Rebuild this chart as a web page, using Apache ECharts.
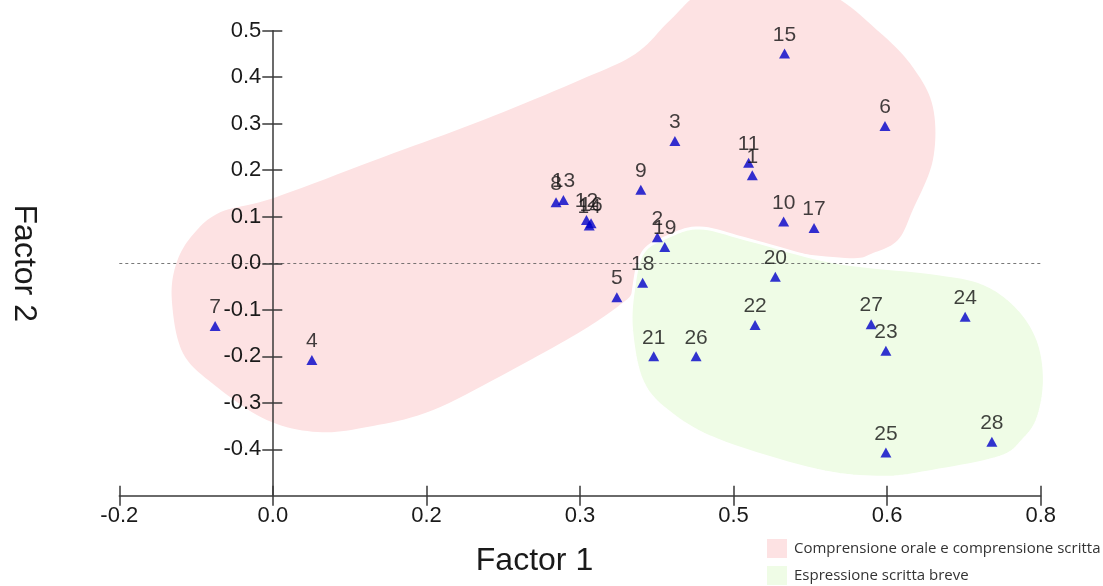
<!DOCTYPE html>
<html>
<head>
<meta charset="utf-8">
<script src="https://cdn.jsdelivr.net/npm/echarts@6/dist/echarts.min.js"></script>
<style>
html,body{margin:0;padding:0;background:#fff;}
#chart{width:1103px;height:586px;}
</style>
</head>
<body>
<div id="chart"></div>
<script>
// ---- data ----
const pointIds = ['1','2','3','4','5','6','7','8','9','10','11','12','13','14','15','16','17','18','19','20','21','22','23','24','25','26','27','28'];
const factor1 = [0.487,0.384,0.403,0.009,0.340,0.631,-0.096,0.274,0.366,0.521,0.483,0.307,0.282,0.310,0.522,0.312,0.554,0.368,0.392,0.512,0.380,0.490,0.632,0.718,0.632,0.426,0.616,0.747];
const factor2 = [0.189,0.056,0.263,-0.208,-0.073,0.295,-0.135,0.131,0.158,0.090,0.216,0.093,0.136,0.081,0.451,0.086,0.076,-0.042,0.035,-0.029,-0.200,-0.133,-0.188,-0.115,-0.407,-0.200,-0.131,-0.384];

// tick labels as printed on the figure
const xTickLabels = ['-0.2','0.0','0.2','0.3','0.5','0.6','0.8'];
const yTickValues = [0.5,0.4,0.3,0.2,0.1,0.0,-0.1,-0.2,-0.3,-0.4];
const yTickLabels = ['0.5','0.4','0.3','0.2','0.1','0.0','-0.1','-0.2','-0.3','-0.4'];

// group outlines (Factor 1, Factor 2)
const groupNames = ['Comprensione orale e comprensione scritta','Espressione scritta breve'];
const pinkX = [-0.143,-0.138,-0.120,-0.090,-0.033,0.086,0.195,0.300,0.360,0.398,0.435,0.501,0.570,0.626,0.661,0.683,0.683,0.661,0.645,0.618,0.593,0.520,0.449,0.416,0.387,0.368,0.358,0.343,0.303,0.232,0.140,0.069,0.015,-0.040,-0.094,-0.131];
const pinkY = [-0.079,0.000,0.062,0.110,0.140,0.228,0.308,0.394,0.450,0.523,0.585,0.605,0.580,0.495,0.422,0.336,0.222,0.114,0.050,0.022,0.011,0.028,0.071,0.071,0.050,0.018,-0.058,-0.090,-0.144,-0.223,-0.316,-0.352,-0.363,-0.337,-0.266,-0.193];
const greenX = [0.430,0.484,0.575,0.683,0.737,0.774,0.797,0.804,0.797,0.781,0.756,0.683,0.629,0.557,0.449,0.394,0.367,0.356,0.358,0.368,0.394];
const greenY = [0.076,0.050,0.003,-0.021,-0.043,-0.094,-0.165,-0.251,-0.333,-0.380,-0.417,-0.447,-0.460,-0.445,-0.380,-0.316,-0.251,-0.144,-0.058,0.022,0.056];

const pinkColor = '#fde2e3';
const greenColor = '#effce6';
const font = "'Liberation Sans', Arial, Helvetica, sans-serif";

// closed Catmull-Rom curve through the outline vertices (in pixel space)
function closedSpline(pts, steps) {
  const out = [];
  const n = pts.length;
  for (let i = 0; i < n; i++) {
    const p0 = pts[(i - 1 + n) % n], p1 = pts[i], p2 = pts[(i + 1) % n], p3 = pts[(i + 2) % n];
    for (let s = 0; s < steps; s++) {
      const t = s / steps, t2 = t * t, t3 = t2 * t;
      const f = (a, b, c, d) => 0.5 * ((2 * b) + (-a + c) * t + (2 * a - 5 * b + 4 * c - d) * t2 + (-a + 3 * b - 3 * c + d) * t3);
      out.push([f(p0[0], p1[0], p2[0], p3[0]), f(p0[1], p1[1], p2[1], p3[1])]);
    }
  }
  return out;
}

function blob(xs, ys, fill, stroke, lw) {
  return function (params, api) {
    const pts = xs.map((x, i) => api.coord([x, ys[i]]));
    return {
      type: 'polygon',
      shape: { points: closedSpline(pts, 10) },
      style: { fill: fill, stroke: stroke, lineWidth: lw },
      silent: true
    };
  };
}

const chart = echarts.init(document.getElementById('chart'), null, { renderer: 'canvas' });

const axisLineStyle = { color: '#3a3a3a', width: 1.5 };

const option = {
  backgroundColor: '#fff',
  animation: false,
  grid: { left: 119.3, right: 62.3, top: 30.7, bottom: 90.2, containLabel: false },
  legend: {
    orient: 'vertical',
    left: 767, top: 539, padding: 0,
    itemWidth: 20, itemHeight: 19, itemGap: 8,
    icon: 'rect',
    selectedMode: false,
    data: groupNames,
    textStyle: { fontFamily: "'Open Sans', sans-serif", fontSize: 15, color: '#333', padding: [0,0,0,2] }
  },
  xAxis: [
    { // data axis
      type: 'value', min: -0.2, max: 0.8, show: false, position: 'bottom',
      axisLine: { onZero: false }, splitLine: { show: false }
    },
    { // printed tick axis (outward ticks + labels)
      type: 'value', min: -1, max: 5, interval: 1, position: 'bottom', z: 10,
      axisLine: { show: true, onZero: false, lineStyle: axisLineStyle },
      axisTick: { show: true, length: 10, lineStyle: axisLineStyle },
      axisLabel: {
        margin: 9, fontSize: 22, color: '#1a1a1a', fontFamily: font,
        formatter: v => xTickLabels[Math.round(v) + 1]
      },
      splitLine: { show: false },
      name: 'Factor 1', nameLocation: 'middle', nameGap: 49,
      nameTextStyle: { fontSize: 32, color: '#1a1a1a', fontFamily: font, padding: [0, 91, 0, 0] }
    },
    { // inward ticks
      type: 'value', min: -1, max: 5, interval: 1, position: 'bottom', z: 10,
      axisLine: { show: false, onZero: false },
      axisTick: { show: true, inside: true, length: 10, lineStyle: axisLineStyle },
      axisLabel: { show: false }, splitLine: { show: false }
    }
  ],
  yAxis: [
    {
      type: 'value', min: -0.5, max: 0.5, interval: 0.1, position: 'left', offset: -153, z: 10,
      axisLine: { show: true, onZero: false, lineStyle: axisLineStyle },
      axisTick: { show: true, length: 10, lineStyle: axisLineStyle, customValues: yTickValues },
      axisLabel: {
        margin: 11, fontSize: 22, color: '#1a1a1a', fontFamily: font, padding: [0, 0, 7, 0],
        customValues: yTickValues,
        formatter: v => { const i = Math.round((0.5 - v) * 10); return yTickLabels[i] !== undefined ? yTickLabels[i] : ''; }
      },
      splitLine: { show: false },
      name: 'Factor 2', nameLocation: 'middle', nameGap: 232, nameRotate: -90,
      nameTextStyle: { fontSize: 32, color: '#1a1a1a', fontFamily: font }
    },
    {
      type: 'value', min: -0.5, max: 0.5, interval: 0.1, position: 'left', offset: -153, z: 10,
      axisLine: { show: false, onZero: false },
      axisTick: { show: true, inside: true, length: 10, lineStyle: axisLineStyle, customValues: yTickValues },
      axisLabel: { show: false }, splitLine: { show: false }
    }
  ],
  series: [
    {
      name: groupNames[0], type: 'custom', xAxisIndex: 0, yAxisIndex: 0, z: 1, clip: false,
      itemStyle: { color: pinkColor },
      data: [[pinkX[0], pinkY[0]]],
      renderItem: blob(pinkX, pinkY, pinkColor, null, 0)
    },
    {
      name: groupNames[1], type: 'custom', xAxisIndex: 0, yAxisIndex: 0, z: 2, clip: false,
      itemStyle: { color: greenColor },
      data: [[greenX[0], greenY[0]]],
      renderItem: blob(greenX, greenY, greenColor, '#ffffff', 3)
    },
    {
      name: 'points', type: 'scatter', xAxisIndex: 0, yAxisIndex: 0, z: 12,
      symbol: 'triangle', symbolSize: [11, 10],
      itemStyle: { color: '#0000c8' },
      label: {
        show: true, position: 'top', distance: 3, fontSize: 21, color: '#111', fontFamily: font,
        formatter: p => p.value[2]
      },
      labelLayout: { hideOverlap: false },
      data: pointIds.map((id, i) => [factor1[i], factor2[i], id]),
      markLine: {
        silent: true, symbol: 'none', label: { show: false },
        lineStyle: { type: [3, 3], color: '#555', width: 0.8 },
        data: [{ yAxis: 0 }]
      }
    }
  ]
};
chart.setOption(option);
</script>
</body>
</html>
